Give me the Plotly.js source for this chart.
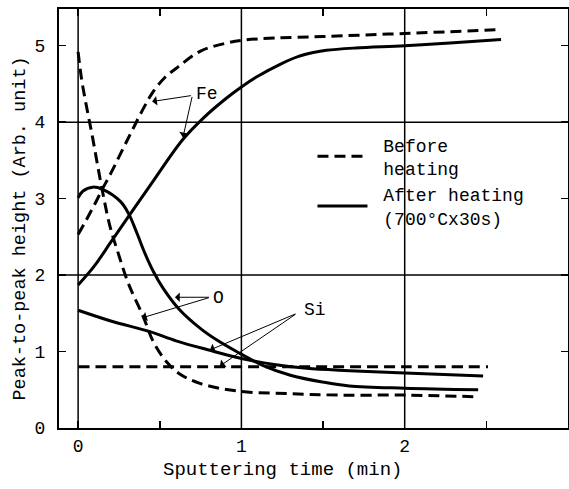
<!DOCTYPE html>
<html>
<head>
<meta charset="utf-8">
<script src="https://cdn.plot.ly/plotly-3.0.1.min.js"></script>
<style>html,body{margin:0;padding:0;background:#fff;}#chart{width:569px;height:489px;}</style>
</head>
<body>
<div id="chart"></div>
<script>
// Fe, before heating (dashed)
const feBeforeX = [0, 0.05, 0.1, 0.15, 0.2, 0.3, 0.4, 0.46, 0.53, 0.61, 0.75, 0.9, 1.0, 1.2, 1.5, 2.0, 2.58];
const feBeforeY = [2.53, 2.72, 2.92, 3.13, 3.33, 3.76, 4.18, 4.4, 4.58, 4.72, 4.93, 5.03, 5.07, 5.1, 5.12, 5.16, 5.21];
// Fe, after heating (solid)
const feAfterX = [0, 0.1, 0.2, 0.31, 0.45, 0.64, 0.77, 0.9, 1.0, 1.1, 1.24, 1.35, 1.44, 1.52, 1.7, 2.0, 2.3, 2.59];
const feAfterY = [1.87, 2.12, 2.43, 2.77, 3.2, 3.77, 4.06, 4.3, 4.46, 4.6, 4.76, 4.86, 4.91, 4.94, 4.97, 5.0, 5.04, 5.08];
// O, before heating (dashed)
const oBeforeX = [0, 0.02, 0.05, 0.085, 0.147, 0.196, 0.245, 0.306, 0.4, 0.46, 0.54, 0.62, 0.75, 0.99, 1.28, 1.6, 2.0, 2.42];
const oBeforeY = [4.92, 4.58, 4.22, 3.84, 3.12, 2.63, 2.29, 1.9, 1.45, 1.13, 0.87, 0.71, 0.58, 0.48, 0.45, 0.43, 0.43, 0.41];
// O, after heating (solid)
const oAfterX = [0, 0.03, 0.09, 0.15, 0.26, 0.31, 0.36, 0.41, 0.46, 0.52, 0.62, 0.75, 0.85, 0.97, 1.13, 1.3, 1.5, 1.66, 2.0, 2.45];
const oAfterY = [3.01, 3.1, 3.15, 3.12, 2.96, 2.8, 2.55, 2.28, 2.05, 1.83, 1.55, 1.3, 1.15, 1.0, 0.82, 0.69, 0.6, 0.55, 0.52, 0.5];
// Si, before heating (dashed)
const siBeforeX = [0, 0.5, 1.0, 1.5, 2.0, 2.51];
const siBeforeY = [0.8, 0.8, 0.8, 0.8, 0.8, 0.8];
// Si, after heating (solid)
const siAfterX = [0, 0.2, 0.44, 0.6, 0.8, 1.0, 1.2, 1.4, 1.66, 2.0, 2.48];
const siAfterY = [1.54, 1.4, 1.26, 1.14, 1.02, 0.91, 0.83, 0.78, 0.75, 0.72, 0.68];

const xTickVals = [0, 0.5, 1, 1.5, 2, 2.5, 3];
const xTickText = ['0', '', '1', '', '2', '', '3'];
const yTickVals = [0, 1, 2, 3, 4, 5];
const yTickText = ['0', '1', '2', '3', '4', '5'];
const legendBefore = '\u00a0Before<br>\u00a0heating';
const legendAfter = '\u00a0After heating<br>\u00a0(700°Cx30s)';

const FONT = 'Liberation Mono, DejaVu Sans Mono, monospace';
const dashed = {color: '#000', width: 3, dash: '11px,6px', shape: 'spline', smoothing: 1};
const solid = {color: '#000', width: 3, shape: 'spline', smoothing: 1};

const traces = [
  {x: feBeforeX, y: feBeforeY, mode: 'lines', line: dashed, name: legendBefore, showlegend: true, legendrank: 1},
  {x: feAfterX, y: feAfterY, mode: 'lines', line: solid, name: legendAfter, showlegend: true, legendrank: 2},
  {x: oBeforeX, y: oBeforeY, mode: 'lines', line: dashed, showlegend: false},
  {x: oAfterX, y: oAfterY, mode: 'lines', line: solid, showlegend: false},
  {x: siBeforeX, y: siBeforeY, mode: 'lines', line: dashed, showlegend: false},
  {x: siAfterX, y: siAfterY, mode: 'lines', line: solid, showlegend: false}
];

function arrow(tx, ty, hx, hy) {
  return {x: hx, y: hy, ax: tx, ay: ty, xref: 'x', yref: 'y', axref: 'x', ayref: 'y',
    text: '', showarrow: true, arrowhead: 1, arrowsize: 1.6, arrowwidth: 1, arrowcolor: '#000'};
}
function label(t, x, y) {
  return {x: x, y: y, xref: 'x', yref: 'y', text: t, showarrow: false,
    font: {family: FONT, size: 18, color: '#000'}};
}

const annotations = [
  label('Fe', 0.79, 4.37),
  arrow(0.70, 4.35, 0.453, 4.27),
  arrow(0.70, 4.35, 0.642, 3.80),
  label('O', 0.86, 1.70),
  arrow(0.81, 1.71, 0.593, 1.71),
  arrow(0.81, 1.71, 0.391, 1.44),
  label('Si', 1.45, 1.54),
  arrow(1.34, 1.50, 0.807, 1.02),
  arrow(1.34, 1.50, 0.868, 0.81),
  {x: 0.44, y: -0.1, xref: 'paper', yref: 'paper', yanchor: 'middle', text: 'Sputtering time (min)', showarrow: false,
    font: {family: FONT, size: 19, color: '#000'}},
  {x: -0.1, y: 0.475, xref: 'paper', yref: 'paper', textangle: -90, text: 'Peak-to-peak height (Arb. unit)', showarrow: false,
    font: {family: FONT, size: 18.5, color: '#000'}}
];

const gridY = [2, 4];
const gridX = [0, 1, 2];
const shapes = gridY.map(v => ({type: 'line', xref: 'paper', yref: 'y', x0: 0, x1: 1, y0: v, y1: v,
  line: {color: '#000', width: 1.5}, layer: 'below'})).concat(
  gridX.map(v => ({type: 'line', xref: 'x', yref: 'paper', x0: v, x1: v, y0: 0, y1: 1,
  line: {color: '#000', width: 1.5}, layer: 'below'})));

const layout = {
  width: 569, height: 489,
  margin: {l: 59, r: 1, t: 9, b: 61},
  paper_bgcolor: '#fff', plot_bgcolor: '#fff',
  font: {family: FONT, size: 18, color: '#000'},
  showlegend: true,
  legend: {x: 0.498, y: 0.72, xanchor: 'left', yanchor: 'top', bgcolor: 'rgba(0,0,0,0)',
    font: {family: FONT, size: 18, color: '#000'}, itemwidth: 50, tracegroupgap: 0},
  xaxis: {range: [-0.117, 3.0], tickvals: xTickVals, ticktext: xTickText, ticks: 'inside', ticklen: 7,
    tickcolor: '#000', tickwidth: 1.5, showline: true, linecolor: '#000', linewidth: 2, mirror: 'allticks',
    showgrid: false, zeroline: false, tickfont: {family: FONT, size: 18}},
  yaxis: {range: [0, 5.48], tickvals: yTickVals, ticktext: yTickText, ticks: 'inside', ticklen: 7,
    tickcolor: '#000', tickwidth: 1.5, showline: true, linecolor: '#000', linewidth: 2, mirror: 'allticks',
    showgrid: false, zeroline: false, tickfont: {family: FONT, size: 18}, ticklabelstandoff: 8},
  shapes: shapes,
  annotations: annotations
};

Plotly.newPlot('chart', traces, layout, {displayModeBar: false, staticPlot: true});
</script>
</body>
</html>
